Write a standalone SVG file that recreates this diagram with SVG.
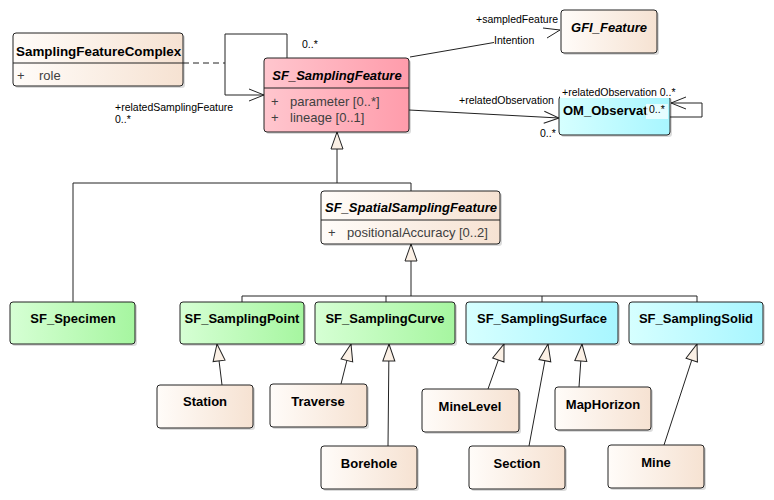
<svg xmlns="http://www.w3.org/2000/svg" width="774" height="500" viewBox="0 0 774 500">
<defs>
<linearGradient id="gBeige" x1="0" y1="0" x2="1" y2="0"><stop offset="0" stop-color="#fffcf9"/><stop offset="1" stop-color="#f6e2d2"/></linearGradient>
<linearGradient id="gPink" x1="0" y1="0" x2="1" y2="0"><stop offset="0" stop-color="#ffc6ce"/><stop offset="1" stop-color="#ff9cab"/></linearGradient>
<linearGradient id="gGreen" x1="0" y1="0" x2="1" y2="0"><stop offset="0" stop-color="#d6ffd4"/><stop offset="1" stop-color="#a6f6a0"/></linearGradient>
<linearGradient id="gCyan" x1="0" y1="0" x2="1" y2="0"><stop offset="0" stop-color="#d6ffff"/><stop offset="1" stop-color="#a8f6ff"/></linearGradient>
<marker id="gen" viewBox="0 0 19 14" refX="18" refY="7" markerWidth="19" markerHeight="14" markerUnits="userSpaceOnUse" orient="auto">
<path d="M1,1 L18,7 L1,13 Z" fill="#fbf0e5" stroke="#222" stroke-width="1"/>
</marker>
<marker id="open" viewBox="0 0 17 14" refX="16" refY="7" markerWidth="17" markerHeight="14" markerUnits="userSpaceOnUse" orient="auto">
<path d="M1,1 L16,7 L1,13" fill="none" stroke="#222" stroke-width="1"/>
</marker>
</defs>
<style>
.box{stroke:#222;stroke-width:1}
.sh{fill:#000;opacity:0.14}
.div{stroke:#222;stroke-width:1}
.t{font-family:"Liberation Sans",Arial,sans-serif;font-size:13px;font-weight:bold;fill:#000;text-anchor:middle}
.ti{font-style:italic}
.a{font-family:"Liberation Sans",Arial,sans-serif;font-size:13px;fill:#404040}
.l{font-family:"Liberation Sans",Arial,sans-serif;font-size:10.5px;fill:#000}
.c{fill:none;stroke:#222;stroke-width:1}
</style>
<rect width="774" height="500" fill="#fff"/>

<g id="connectors">
<path class="c" d="M73,302 V183 H411 V191"/>
<path class="c" d="M337,183 V132" marker-end="url(#gen)"/>
<path class="c" d="M242,302 V296 H697 V302 M386,296 V302 M542,296 V302"/>
<path class="c" d="M411,296 V244" marker-end="url(#gen)"/>
<path class="c" d="M222,385 L217,344" marker-end="url(#gen)"/>
<path class="c" d="M341,384 L351,344" marker-end="url(#gen)"/>
<path class="c" d="M388,446 L389,344" marker-end="url(#gen)"/>
<path class="c" d="M488,389 L504,344" marker-end="url(#gen)"/>
<path class="c" d="M529,446 L548,344" marker-end="url(#gen)"/>
<path class="c" d="M579,387 L582,344" marker-end="url(#gen)"/>
<path class="c" d="M664,445 L697,344" marker-end="url(#gen)"/>
<path class="c" d="M287,58 V34 H225 V95 H264" marker-end="url(#open)"/>
<path class="c" d="M183,63 H225" stroke-dasharray="6,4"/>
<path class="c" d="M410,57 L494,42.5"/>
<path class="c" d="M543,28 L560,30 L547,38"/>
<path class="c" d="M409,110 L559,118" marker-end="url(#open)"/>
<path class="c" d="M670,117 H702 V103 H671" marker-end="url(#open)"/>
<text class="l" x="302" y="48">0..*</text>
<text class="l" x="115" y="111">+relatedSamplingFeature</text>
<text class="l" x="115" y="123">0..*</text>
<text class="l" x="476" y="22.5">+sampledFeature</text>
<text class="l" x="494" y="43.5">Intention</text>
<text class="l" x="459" y="104">+relatedObservation</text>
<text class="l" x="540" y="137">0..*</text>
</g>

<g id="SamplingFeatureComplex">
<rect class="sh" x="15" y="35" width="170" height="53" rx="3"/>
<rect class="box" x="13" y="33" width="170" height="53" rx="3" fill="url(#gBeige)"/>
<line class="div" x1="13" y1="63" x2="183" y2="63"/>
<text class="t" x="16" y="56" style="text-anchor:start;font-size:13.4px">SamplingFeatureComplex</text>
<text class="a" x="17" y="80">+</text>
<text class="a" x="39" y="80">role</text>
</g>

<g id="SF_SamplingFeature">
<rect class="sh" x="266" y="60" width="145" height="74" rx="3"/>
<rect class="box" x="264" y="58" width="145" height="74" rx="3" fill="url(#gPink)"/>
<line class="div" x1="264" y1="88" x2="409" y2="88"/>
<text class="t ti" x="337" y="80">SF_SamplingFeature</text>
<text class="a" x="271" y="106">+</text>
<text class="a" x="290" y="106">parameter [0..*]</text>
<text class="a" x="271" y="122">+</text>
<text class="a" x="290" y="122">lineage [0..1]</text>
</g>

<g id="GFI_Feature">
<rect class="sh" x="563" y="12" width="96" height="43" rx="3"/>
<rect class="box" x="561" y="10" width="96" height="43" rx="3" fill="url(#gBeige)"/>
<text class="t ti" x="609" y="31.5">GFI_Feature</text>
</g>

<g id="OM_Observation">
<rect class="sh" x="561" y="98" width="111" height="39" rx="3"/>
<rect class="box" x="559" y="96" width="111" height="39" rx="3" fill="url(#gCyan)"/>
<text class="t" x="563" y="115" style="text-anchor:start">OM_Observat</text>
<rect x="646" y="104" width="22" height="15" fill="#fff" opacity="0.7"/>
<text class="l" x="649" y="113">0..*</text>
<rect x="560" y="86" width="115" height="12" fill="#fff"/>
<text class="l" x="562" y="96">+relatedObservation 0..*</text>
</g>

<g id="SF_SpatialSamplingFeature">
<rect class="sh" x="323" y="193" width="179" height="53" rx="3"/>
<rect class="box" x="321" y="191" width="179" height="53" rx="3" fill="url(#gBeige)"/>
<line class="div" x1="321" y1="220" x2="500" y2="220"/>
<text class="t ti" x="411" y="212">SF_SpatialSamplingFeature</text>
<text class="a" x="328" y="237">+</text>
<text class="a" x="347" y="237">positionalAccuracy [0..2]</text>
</g>

<g id="SF_Specimen">
<rect class="sh" x="12" y="304" width="125" height="42" rx="3"/>
<rect class="box" x="10" y="302" width="125" height="42" rx="3" fill="url(#gGreen)"/>
<text class="t" x="73" y="323">SF_Specimen</text>
</g>

<g id="SF_SamplingPoint">
<rect class="sh" x="182" y="304" width="124" height="42" rx="3"/>
<rect class="box" x="180" y="302" width="124" height="42" rx="3" fill="url(#gGreen)"/>
<text class="t" x="242" y="323">SF_SamplingPoint</text>
</g>

<g id="SF_SamplingCurve">
<rect class="sh" x="317" y="304" width="140" height="42" rx="3"/>
<rect class="box" x="315" y="302" width="140" height="42" rx="3" fill="url(#gGreen)"/>
<text class="t" x="385" y="323">SF_SamplingCurve</text>
</g>

<g id="SF_SamplingSurface">
<rect class="sh" x="468" y="304" width="152" height="42" rx="3"/>
<rect class="box" x="466" y="302" width="152" height="42" rx="3" fill="url(#gCyan)"/>
<text class="t" x="542" y="323">SF_SamplingSurface</text>
</g>

<g id="SF_SamplingSolid">
<rect class="sh" x="631" y="304" width="134" height="42" rx="3"/>
<rect class="box" x="629" y="302" width="134" height="42" rx="3" fill="url(#gCyan)"/>
<text class="t" x="696" y="323">SF_SamplingSolid</text>
</g>

<g id="Station">
<rect class="sh" x="159" y="387" width="96" height="43" rx="3"/>
<rect class="box" x="157" y="385" width="96" height="43" rx="3" fill="url(#gBeige)"/>
<text class="t" x="205" y="406">Station</text>
</g>

<g id="Traverse">
<rect class="sh" x="272" y="386" width="97" height="43" rx="3"/>
<rect class="box" x="270" y="384" width="97" height="43" rx="3" fill="url(#gBeige)"/>
<text class="t" x="318" y="405.5">Traverse</text>
</g>

<g id="Borehole">
<rect class="sh" x="323" y="448" width="96" height="43" rx="3"/>
<rect class="box" x="321" y="446" width="96" height="43" rx="3" fill="url(#gBeige)"/>
<text class="t" x="369" y="467.5">Borehole</text>
</g>

<g id="MineLevel">
<rect class="sh" x="424" y="391" width="97" height="43" rx="3"/>
<rect class="box" x="422" y="389" width="97" height="43" rx="3" fill="url(#gBeige)"/>
<text class="t" x="470" y="411">MineLevel</text>
</g>

<g id="MapHorizon">
<rect class="sh" x="557" y="389" width="96" height="43" rx="3"/>
<rect class="box" x="555" y="387" width="96" height="43" rx="3" fill="url(#gBeige)"/>
<text class="t" x="603" y="409">MapHorizon</text>
</g>

<g id="Section">
<rect class="sh" x="471" y="448" width="96" height="43" rx="3"/>
<rect class="box" x="469" y="446" width="96" height="43" rx="3" fill="url(#gBeige)"/>
<text class="t" x="517" y="467.5">Section</text>
</g>

<g id="Mine">
<rect class="sh" x="610" y="447" width="96" height="43" rx="3"/>
<rect class="box" x="608" y="445" width="96" height="43" rx="3" fill="url(#gBeige)"/>
<text class="t" x="656" y="466.5">Mine</text>
</g>
</svg>
